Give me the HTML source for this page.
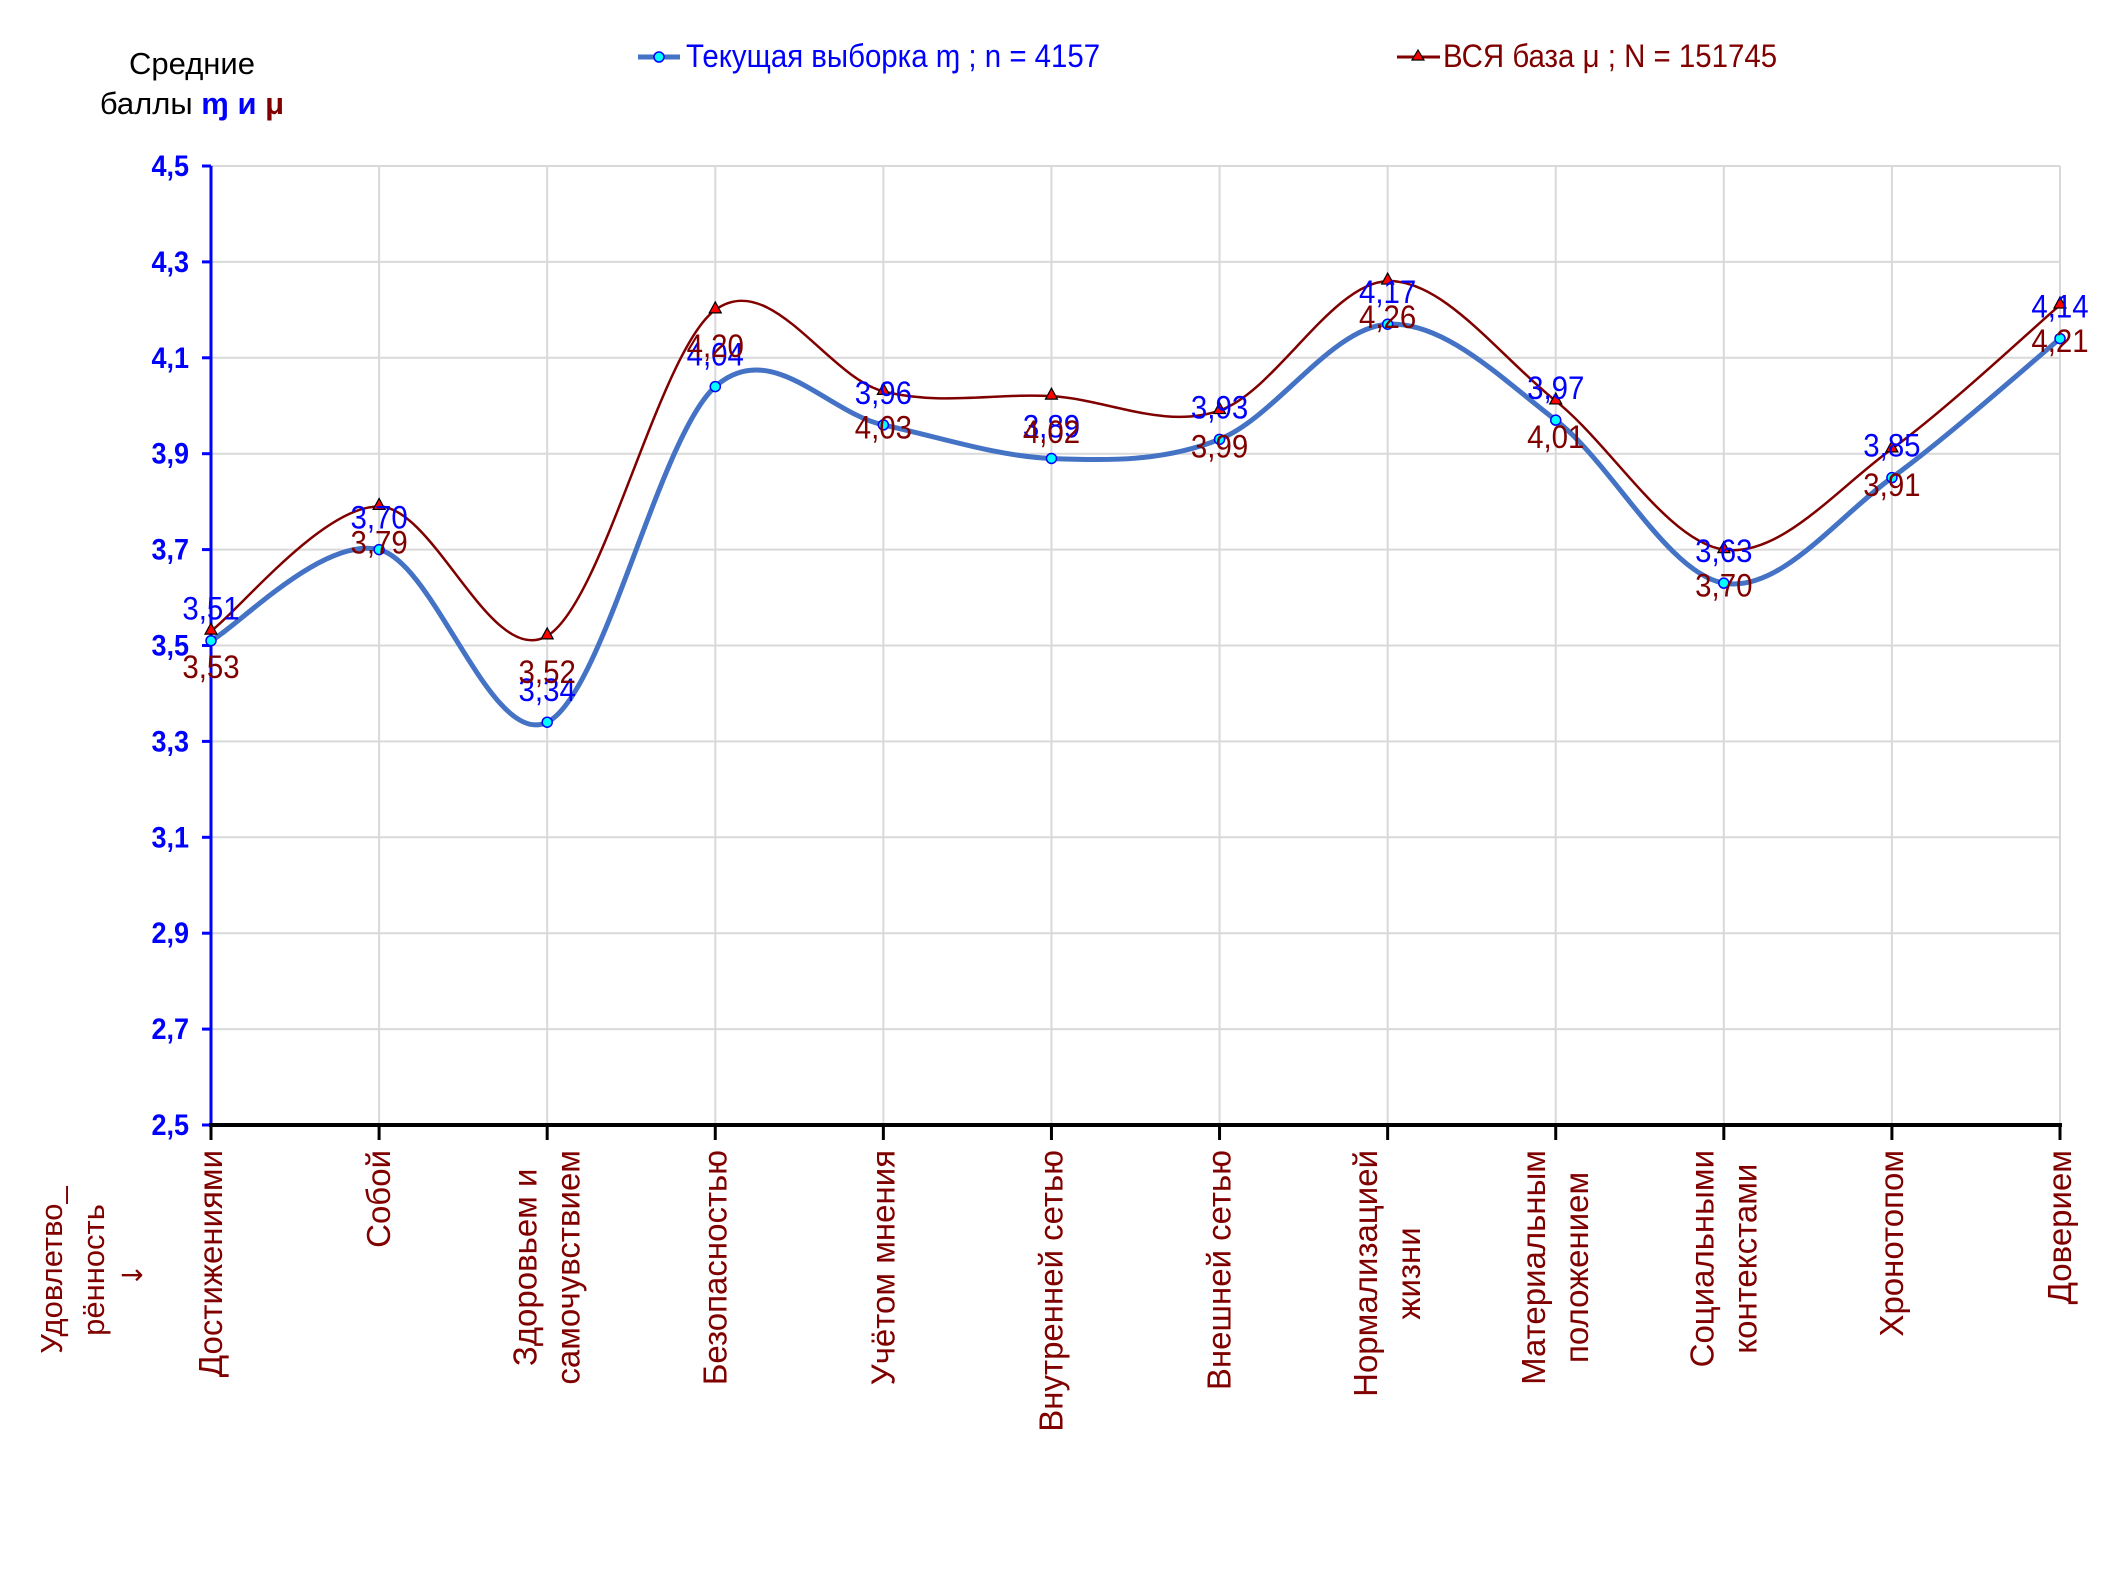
<!DOCTYPE html>
<html><head><meta charset="utf-8"><style>
html,body{margin:0;padding:0;background:#fff;}
svg{display:block;}
</style></head><body>
<svg id="chart" width="2126" height="1595" viewBox="0 0 2126 1595" xmlns="http://www.w3.org/2000/svg">
<g id="grid"></g>
<g id="axes"></g>
<g id="series"></g>
<g id="labels"></g>
<g font-family="Liberation Sans, sans-serif" font-size="31">
  <text x="192" y="74" text-anchor="middle" fill="#000">Средние</text>
  <text x="192" y="114" text-anchor="middle" fill="#000">баллы <tspan fill="#0000ff" font-weight="bold">ɱ</tspan> <tspan fill="#0000ff" font-weight="bold">и</tspan> <tspan fill="#800000" font-weight="bold">μ</tspan></text>
</g>
<g>
  <line x1="638" y1="57" x2="680" y2="57" stroke="#4472C4" stroke-width="5"/>
  <circle cx="659" cy="57" r="5" fill="#00ffff" stroke="#0000ff" stroke-width="1.5"/>
  <text transform="translate(686,67) scale(0.92,1)" font-family="Liberation Sans, sans-serif" font-size="32" fill="#0000ff">Текущая выборка ɱ ; n = 4157</text>
</g>
<g>
  <line x1="1397" y1="57" x2="1440" y2="57" stroke="#800000" stroke-width="3"/>
  <polygon points="1418,50 1424,60 1412,60" fill="#ff0000" stroke="#000" stroke-width="1.2"/>
  <text transform="translate(1443,67) scale(0.92,1)" font-family="Liberation Sans, sans-serif" font-size="32" fill="#800000">ВСЯ база μ ; N = 151745</text>
</g>
<g font-family="Liberation Sans, sans-serif" font-size="31" fill="#800000" text-anchor="middle">
  <text transform="translate(62,1270) rotate(-90)">Удовлетво_</text>
  <text transform="translate(104,1270) rotate(-90)">рённость</text>
  <text x="132" y="1284" font-size="28" font-family="DejaVu Sans, sans-serif">→</text>
</g>
</svg>
<script>
const categories=[["Достижениями"],["Собой"],["Здоровьем и","самочувствием"],["Безопасностью"],["Учётом мнения"],["Внутренней сетью"],["Внешней сетью"],["Нормализацией","жизни"],["Материальным","положением"],["Социальными","контекстами"],["Хронотопом"],["Доверием"]];
const currentValues=[3.51,3.70,3.34,4.04,3.96,3.89,3.93,4.17,3.97,3.63,3.85,4.14];
const baseValues=[3.53,3.79,3.52,4.20,4.03,4.02,3.99,4.26,4.01,3.70,3.91,4.21];
const yTicks=[2.5,2.7,2.9,3.1,3.3,3.5,3.7,3.9,4.1,4.3,4.5];
const yTickLabels=["2,5","2,7","2,9","3,1","3,3","3,5","3,7","3,9","4,1","4,3","4,5"];

const NS="http://www.w3.org/2000/svg";
const X0=211,X1=2060,Y0=1125,Y1=166,YMIN=2.5,YMAX=4.5;
function xs(i){return X0+(X1-X0)*i/(categories.length-1);}
function ys(v){return Y0-(v-YMIN)/(YMAX-YMIN)*(Y0-Y1);}
function mk(tag,attrs,parent){const e=document.createElementNS(NS,tag);for(const k in attrs)e.setAttribute(k,attrs[k]);parent.appendChild(e);return e;}
const grid=document.getElementById('grid'),axes=document.getElementById('axes'),ser=document.getElementById('series'),lab=document.getElementById('labels');

yTicks.forEach((t,i)=>{
  const y=ys(t);
  if(i>0){const g=mk('line',{x1:X0,x2:X1,y1:y,y2:y,stroke:'#d9d9d9','stroke-width':2},grid);
  
  }
  const tk=mk('line',{x1:X0-9,x2:X0,y1:y,y2:y,stroke:'#0000ff','stroke-width':3},axes);
  
  
  const tx=mk('text',{transform:`translate(${X0-22},${y+10}) scale(0.9,1)`,'text-anchor':'end','font-family':'Liberation Sans, sans-serif','font-size':30,'font-weight':'bold',fill:'#0000ff'},axes);
  tx.textContent=yTickLabels[i];
  
  
});
categories.forEach((c,i)=>{
  const x=xs(i);
  if(i>0){const g=mk('line',{x1:x,x2:x,y1:Y1,y2:Y0,stroke:'#d9d9d9','stroke-width':2},grid);
  
  }
  const tk=mk('line',{x1:x,x2:x,y1:Y0,y2:Y0+15,stroke:'#000','stroke-width':3},axes);
  
  
});
const ya=mk('line',{x1:X0,x2:X0,y1:Y1,y2:Y0,stroke:'#0000ff','stroke-width':3},axes);


const xa=mk('line',{x1:X0-2,x2:X1+2,y1:Y0,y2:Y0,stroke:'#000','stroke-width':4},axes);



categories.forEach((lines,i)=>{
  const x=xs(i);
  const g=mk('g',{},lab);
  
  
  const n=lines.length, gap=43;
  const texts=lines.map((s,j)=>{
    const t=mk('text',{'font-family':'Liberation Sans, sans-serif','font-size':33,fill:'#800000','text-anchor':'middle'},g);
    t.textContent=s;return t;});
  let maxLen=0;texts.forEach(t=>{maxLen=Math.max(maxLen,t.getComputedTextLength());});
  const cy=1150+maxLen/2;
  texts.forEach((t,j)=>{
    const lx=x+(j-(n-1)/2)*gap+11;
    t.setAttribute('transform',`translate(${lx},${cy}) rotate(-90)`);
  });
});

function smoothPath(vals){
  const p=vals.map((v,i)=>[xs(i),ys(v)]);
  let d=`M${p[0][0]},${p[0][1]}`;
  for(let i=0;i<p.length-1;i++){
    const p0=p[i-1]||p[i],p1=p[i],p2=p[i+1],p3=p[i+2]||p[i+1];
    const c1=[p1[0]+(p2[0]-p0[0])/6,p1[1]+(p2[1]-p0[1])/6];
    const c2=[p2[0]-(p3[0]-p1[0])/6,p2[1]-(p3[1]-p1[1])/6];
    d+=` C${c1[0]},${c1[1]} ${c2[0]},${c2[1]} ${p2[0]},${p2[1]}`;
  }
  return d;
}
function fmt(v){return v.toFixed(2).replace('.',',');}

const bl=mk('path',{d:smoothPath(currentValues),fill:'none',stroke:'#4472C4','stroke-width':5},ser);


const rl=mk('path',{d:smoothPath(baseValues),fill:'none',stroke:'#800000','stroke-width':2.5},ser);



currentValues.forEach((v,i)=>{
  const c=mk('circle',{cx:xs(i),cy:ys(v),r:5,fill:'#00ffff',stroke:'#0000ff','stroke-width':1.5},ser);
  
  
});
baseValues.forEach((v,i)=>{
  const x=xs(i),y=ys(v);
  const t=mk('polygon',{points:`${x},${y-8} ${x+6},${y+3} ${x-6},${y+3}`,fill:'#ff0000',stroke:'#000','stroke-width':1.2},ser);
  
  
});
currentValues.forEach((v,i)=>{
  const t=mk('text',{transform:`translate(${xs(i)},${ys(v)-21}) scale(0.92,1)`,'text-anchor':'middle','font-family':'Liberation Sans, sans-serif','font-size':32,fill:'#0000ff'},lab);
  t.textContent=fmt(v);
  
  
});
baseValues.forEach((v,i)=>{
  const t=mk('text',{transform:`translate(${xs(i)},${ys(v)+47}) scale(0.92,1)`,'text-anchor':'middle','font-family':'Liberation Sans, sans-serif','font-size':32,fill:'#800000'},lab);
  t.textContent=fmt(v);
  
  
});
</script>
</body></html>
